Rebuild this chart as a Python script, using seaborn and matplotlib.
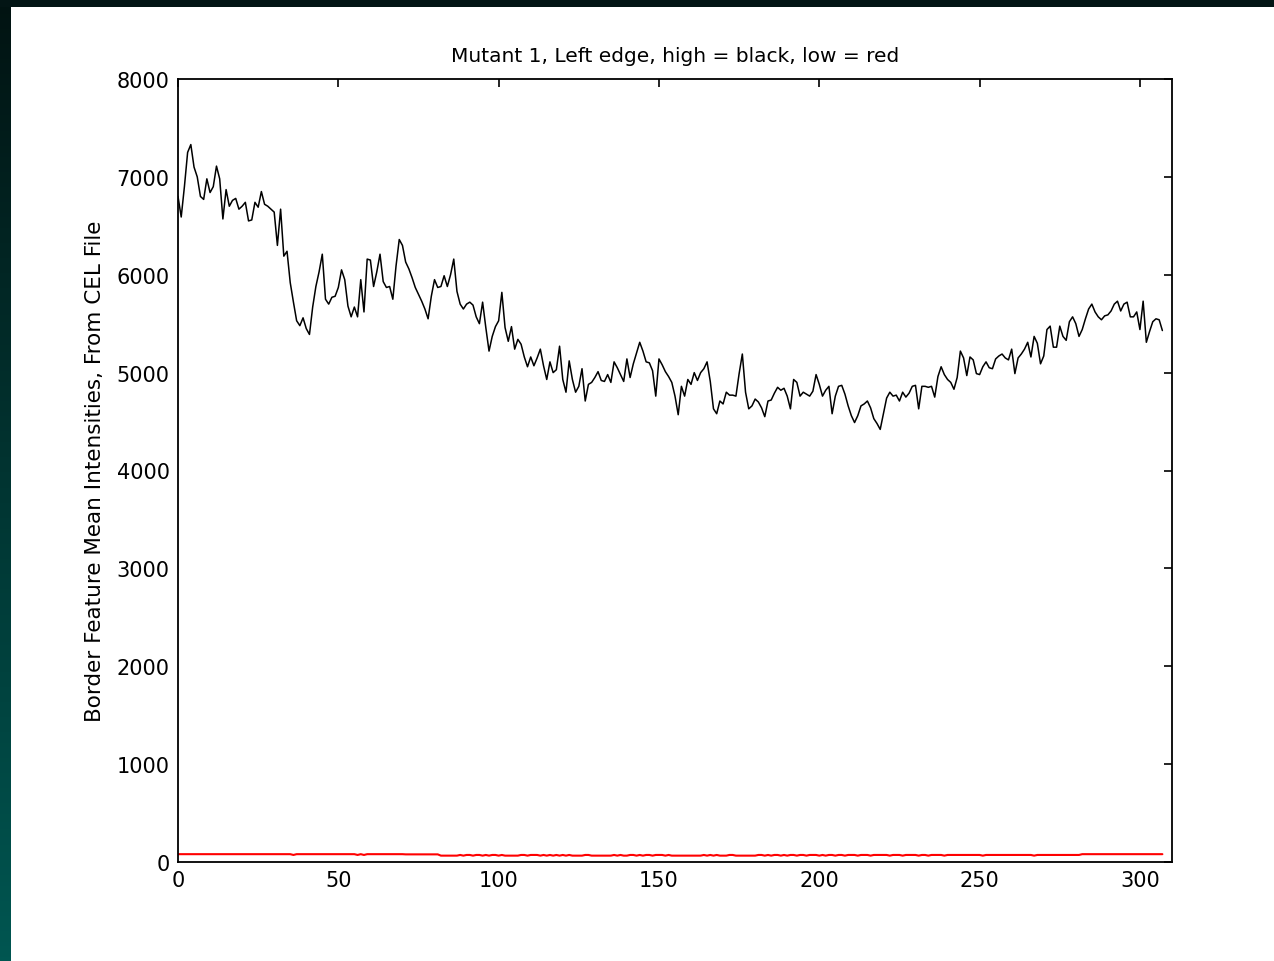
import numpy as np
import pandas as pd
import matplotlib
matplotlib.use("Agg")
import matplotlib.pyplot as plt
import seaborn as sns
from matplotlib.colors import LinearSegmentedColormap

title = "Mutant 1, Left edge, high = black, low = red"
ylabel = "Border Feature Mean Intensities, From CEL File"
xticks = [0, 50, 100, 150, 200, 250, 300]
yticks = [0, 1000, 2000, 3000, 4000, 5000, 6000, 7000, 8000]

high = [
    6800, 6590, 6900, 7250, 7330, 7100, 7000, 6800, 6770, 6980,
    6840, 6900, 7110, 6980, 6570, 6870, 6700, 6760, 6780, 6670,
    6700, 6740, 6550, 6560, 6740, 6690, 6850, 6720, 6700, 6670,
    6640, 6300, 6670, 6190, 6240, 5920, 5720, 5530, 5480, 5560,
    5450, 5390, 5670, 5880, 6030, 6210, 5750, 5700, 5770, 5780,
    5870, 6050, 5950, 5680, 5570, 5670, 5570, 5950, 5620, 6160,
    6150, 5880, 6030, 6210, 5930, 5870, 5880, 5750, 6090, 6360,
    6300, 6130, 6060, 5970, 5870, 5800, 5730, 5650, 5550, 5780,
    5950, 5870, 5880, 5990, 5880, 6000, 6160, 5830, 5700, 5650,
    5700, 5720, 5690, 5570, 5500, 5720, 5460, 5220, 5370, 5470,
    5530, 5820, 5460, 5320, 5470, 5240, 5340, 5290, 5160, 5060,
    5160, 5070, 5150, 5240, 5070, 4930, 5110, 5000, 5030, 5270,
    4930, 4800, 5120, 4930, 4800, 4860, 5040, 4710, 4880, 4900,
    4950, 5010, 4920, 4910, 4980, 4900, 5110, 5050, 4980, 4910,
    5140, 4950, 5090, 5200, 5310, 5220, 5110, 5100, 5020, 4760,
    5140, 5080, 5010, 4960, 4900, 4760, 4570, 4860, 4760, 4930,
    4880, 5000, 4920, 5000, 5040, 5110, 4910, 4630, 4580, 4710,
    4680, 4800, 4770, 4770, 4760, 4990, 5190, 4800, 4630, 4660,
    4730, 4700, 4640, 4550, 4710, 4720, 4790, 4850, 4820, 4840,
    4760, 4630, 4930, 4900, 4760, 4800, 4780, 4760, 4810, 4980,
    4880, 4760, 4820, 4860, 4580, 4760, 4860, 4870, 4780, 4660,
    4560, 4490, 4560, 4660, 4680, 4710, 4640, 4530, 4480, 4420,
    4580, 4740, 4800, 4760, 4770, 4710, 4800, 4750, 4790, 4860,
    4870, 4630, 4860, 4860, 4850, 4860, 4750, 4960, 5060, 4980,
    4930, 4900, 4830, 4950, 5220, 5150, 4970, 5160, 5130, 4990,
    4980, 5060, 5110, 5050, 5040, 5140, 5170, 5190, 5150, 5130,
    5240, 4990, 5150, 5190, 5240, 5310, 5160, 5370, 5300, 5090,
    5170, 5440, 5475, 5260, 5260, 5475, 5370, 5330, 5520, 5570,
    5500, 5370, 5440, 5550, 5650, 5700, 5620, 5570, 5540, 5580,
    5590, 5630, 5700, 5730, 5630, 5700, 5720, 5570, 5570, 5620,
    5440, 5730, 5310, 5420, 5520, 5550, 5540, 5430,
]

low = [
    80, 80, 80, 80, 80, 80, 80, 80, 80, 80, 80, 80, 80, 80, 80, 80, 80, 80, 80, 80,
    80, 80, 80, 80, 80, 80, 80, 80, 80, 80, 80, 80, 80, 80, 80, 80, 72, 80, 80, 80,
    80, 80, 80, 80, 80, 80, 80, 80, 80, 80, 80, 80, 80, 80, 80, 80, 72, 80, 72, 80,
    80, 80, 80, 80, 80, 80, 80, 80, 80, 80, 80, 78, 78, 78, 78, 78, 78, 78, 78, 78,
    78, 78, 65, 65, 65, 65, 65, 65, 72, 65, 72, 72, 65, 72, 72, 65, 72, 65, 72, 72,
    65, 72, 65, 65, 65, 65, 65, 72, 72, 65, 72, 72, 72, 65, 72, 65, 72, 65, 72, 65,
    72, 65, 72, 65, 65, 65, 65, 72, 72, 65, 65, 65, 65, 65, 65, 65, 72, 65, 72, 65,
    65, 72, 72, 65, 72, 65, 72, 72, 65, 72, 72, 72, 65, 72, 65, 65, 65, 65, 65, 65,
    65, 65, 65, 65, 72, 65, 72, 65, 72, 65, 65, 65, 72, 72, 65, 65, 65, 65, 65, 65,
    65, 72, 72, 65, 72, 65, 72, 72, 65, 72, 65, 72, 72, 65, 72, 72, 65, 72, 72, 72,
    65, 72, 65, 72, 72, 65, 72, 72, 65, 72, 72, 72, 65, 72, 72, 72, 65, 72, 72, 72,
    72, 72, 65, 72, 72, 72, 65, 72, 72, 72, 72, 65, 72, 72, 65, 72, 72, 72, 72, 65,
    72, 72, 72, 72, 72, 72, 72, 72, 72, 72, 72, 65, 72, 72, 72, 72, 72, 72, 72, 72,
    72, 72, 72, 72, 72, 72, 72, 65, 72, 72, 72, 72, 72, 72, 72, 72, 72, 72, 72, 72,
    72, 72, 80, 80, 80, 80, 80, 80, 80, 80, 80, 80, 80, 80, 80, 80, 80, 80, 80, 80,
    80, 80, 80, 80, 80, 80, 80, 80,
]

sns.set_style("white")
plt.rcParams["font.family"] = ["DejaVu Sans"]
plt.rcParams["text.color"] = "black"
plt.rcParams["axes.labelcolor"] = "black"

W, H = 1274, 962
fig = plt.figure(figsize=(W / 100, H / 100), dpi=100)
fig.patch.set_facecolor("white")

# dark frame strips (left gradient, top band)
left_ax = fig.add_axes([0, 0, 11 / W, 1])
grad = np.linspace(0, 1, 256).reshape(-1, 1)
cm = LinearSegmentedColormap.from_list("tealgrad", ["#021312", "#005651"])
left_ax.imshow(grad, aspect="auto", cmap=cm, extent=[0, 1, 0, 1], origin="upper")
left_ax.axis("off")
top_ax = fig.add_axes([0, 1 - 8 / H, 1, 8 / H])
top_ax.set_facecolor("#031515")
top_ax.set_xticks([]); top_ax.set_yticks([])
for s in top_ax.spines.values():
    s.set_visible(False)

ax = fig.add_axes([178 / W, (H - 863) / H, 994 / W, 783 / H])
n = len(high)
df = pd.DataFrame({"idx": np.arange(n), "high": high, "low": low})
sns.lineplot(data=df, x="idx", y="high", color="black", lw=1.1, ax=ax)
sns.lineplot(data=df, x="idx", y="low", color="#ff0000", lw=1.5, ax=ax)

ax.set_xlim(0, 310)
ax.set_ylim(0, 8000)
ax.set_xticks(xticks)
ax.set_yticks(yticks)
ax.tick_params(direction="in", length=6, width=1.2, top=True, right=True,
               labelsize=15, colors="black", pad=6)
for s in ax.spines.values():
    s.set_color("black")
    s.set_linewidth(1.3)
    s.set_visible(True)
ax.set_xlabel("")
ax.set_ylabel(ylabel, fontsize=15.5, labelpad=8, color="black")
ax.set_title(title, fontsize=14.5, pad=13, color="black")

fig.savefig("out.png", dpi=100, facecolor="white")
